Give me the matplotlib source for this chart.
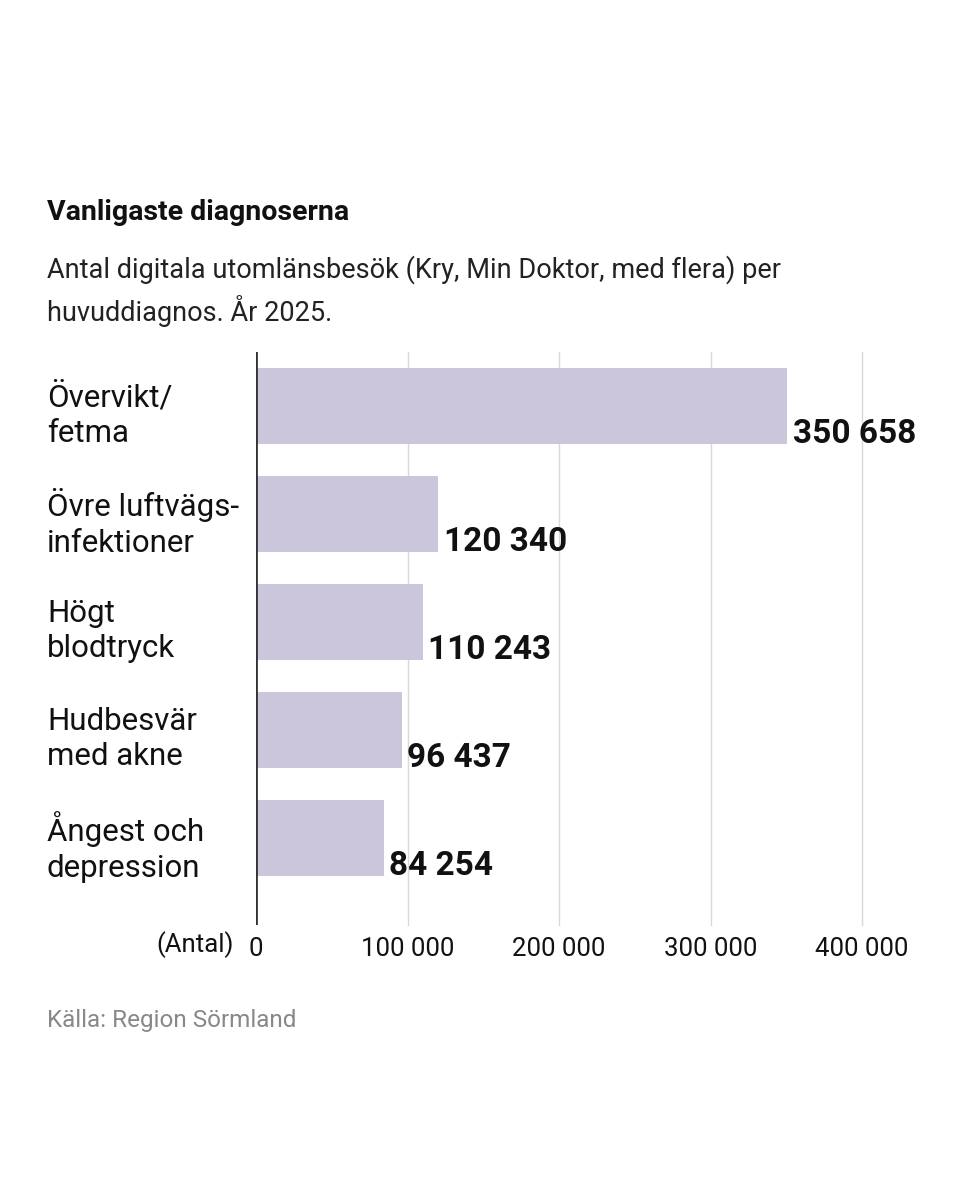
import matplotlib.pyplot as plt
from matplotlib.ticker import FuncFormatter

plt.rcParams['font.family'] = ['Roboto', 'DejaVu Sans']

categories = ["Övervikt/\nfetma", "Övre luftvägs-\ninfektioner", "Högt\nblodtryck",
              "Hudbesvär\nmed akne", "Ångest och\ndepression"]
values = [350658, 120340, 110243, 96437, 84254]
xticks = [0, 100000, 200000, 300000, 400000]

fig = plt.figure(figsize=(9.6, 12), dpi=100)
ax = fig.add_axes([0.2667, 0.2292, 0.6313, 0.4775])

ypos = list(range(len(values)))
ax.barh(ypos, values, height=0.7, color="#cbc6dc", zorder=2)
ax.set_xlim(0, 400000)
ax.set_ylim(4.806, -0.5)

for x in xticks[1:]:
    ax.axvline(x, color="#d8d8d8", lw=1, zorder=1, clip_on=False)
ax.axvline(0, color="#333333", lw=2, zorder=3)


def fmt(v, pos=None):
    return f"{int(v):,}".replace(",", " ")


for y, v in zip(ypos, values):
    ax.text(v + 3500, y + 0.26, fmt(v), fontsize=24, fontweight="bold",
            va="center", ha="left", color="#111111", zorder=4)

for y, c in zip(ypos, categories):
    fig.text(47 / 960, 1 - (352 + (y + 0.5) * 108 + 9) / 1200, c, fontsize=22.5,
             va="center", ha="left", color="#111111", linespacing=1.3)

ax.set_xticks(xticks)
ax.xaxis.set_major_formatter(FuncFormatter(fmt))
ax.tick_params(axis="x", length=0, labelsize=18.5, pad=9, colors="#111111")
ax.set_yticks([])
for s in ax.spines.values():
    s.set_visible(False)

fig.text(234 / 960, 1 - 945 / 1200, "(Antal)", fontsize=18.5, ha="right", va="center",
         color="#111111")

fig.text(47 / 960, 1 - 212 / 1200, "Vanligaste diagnoserna", fontsize=20.5,
         fontweight="bold", va="center", ha="left", color="#111111")
fig.text(47 / 960, 1 - 291 / 1200,
         "Antal digitala utomlänsbesök (Kry, Min Doktor, med flera) per\nhuvuddiagnos. År 2025.",
         fontsize=19.5, va="center", ha="left", color="#222222", linespacing=1.4)
fig.text(47 / 960, 1 - 1020 / 1200, "Källa: Region Sörmland", fontsize=17.5,
         va="center", ha="left", color="#888888")

fig.savefig("out.png", dpi=100, facecolor="white")
